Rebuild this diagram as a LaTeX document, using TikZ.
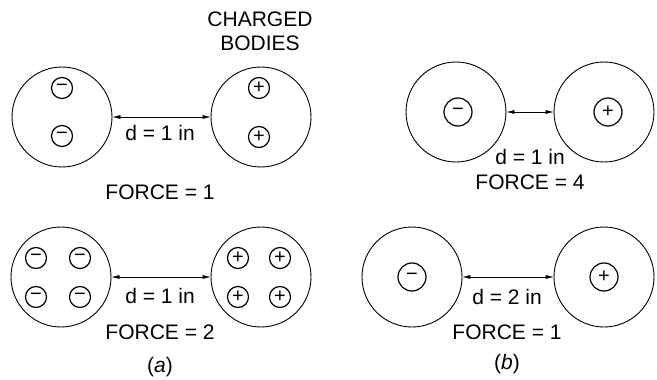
\documentclass[tikz,border=0pt]{standalone}
\usepackage{fontspec}
\setmainfont{Liberation Sans}
\usetikzlibrary{arrows.meta}

\begin{document}
\begin{tikzpicture}[x=1pt, y=-1pt,
    body/.style={draw, circle, line width=0.9pt, minimum size=100pt, inner sep=0pt},
    chg/.style={draw, circle, line width=1.2pt, minimum size=21pt, inner sep=0pt, font=\fontsize{20}{20}\selectfont},
    bigchg/.style={chg, minimum size=28pt},
    lbl/.style={font=\fontsize{21}{24}\selectfont, align=center},
    >={Latex[length=8pt, width=4pt]}
  ]
    \useasboundingbox (0,0) rectangle (657,380);

    % (a) top
    \node[body] (atl) at (62,117) {};
    \node[body] (atr) at (261,117) {};
    \node[chg] (atl1) at (62,88) {\textminus};
    \node[chg] (atl2) at (62,136) {\textminus};
    \node[chg] (atr1) at (259,88) {+};
    \node[chg] (atr2) at (259,137) {+};
    \draw[<->, thin] (atl) -- (atr);
    \node[lbl] (atd) at (160,133) {d = 1 in};
    \node[lbl] (atf) at (160,192) {FORCE = 1};
    \node[lbl] (cb) at (260,31) {CHARGED\\BODIES};

    % (b) top
    \node[body] (btl) at (456,112) {};
    \node[body] (btr) at (604,112) {};
    \node[bigchg] (btl1) at (458,112) {\textminus};
    \node[bigchg] (btr1) at (608,112) {+};
    \draw[<->, thin] (btl) -- (btr);
    \node[lbl] (btd) at (530,157) {d = 1 in};
    \node[lbl] (btf) at (530,182) {FORCE = 4};

    % (a) bottom
    \node[body] (abl) at (61,277) {};
    \node[body] (abr) at (261,277) {};
    \node[chg] (abl1) at (36,258) {\textminus};
    \node[chg] (abl2) at (80,258) {\textminus};
    \node[chg] (abl3) at (36,297) {\textminus};
    \node[chg] (abl4) at (80,297) {\textminus};
    \node[chg] (abr1) at (238,258) {+};
    \node[chg] (abr2) at (280,258) {+};
    \node[chg] (abr3) at (238,297) {+};
    \node[chg] (abr4) at (280,297) {+};
    \draw[<->, thin] (abl) -- (abr);
    \node[lbl] (abd) at (160,296) {d = 1 in};
    \node[lbl] (abf) at (160,332) {FORCE = 2};
    \node[lbl] (capa) at (160,367) {(\textit{a})};

    % (b) bottom
    \node[body] (bbl) at (412,277) {};
    \node[body] (bbr) at (604,277) {};
    \node[bigchg] (bbl1) at (412,277) {\textminus};
    \node[bigchg] (bbr1) at (604,277) {+};
    \draw[<->, thin] (bbl) -- (bbr);
    \node[lbl] (bbd) at (507,297) {d = 2 in};
    \node[lbl] (bbf) at (507,332) {FORCE = 1};
    \node[lbl] (capb) at (507,364) {(\textit{b})};
\end{tikzpicture}
\end{document}
